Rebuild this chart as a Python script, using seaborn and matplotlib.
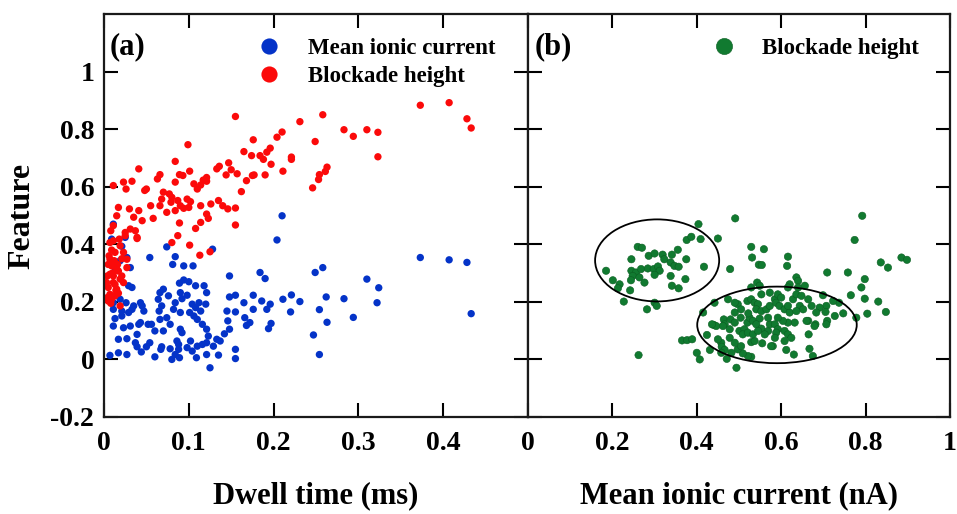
import numpy as np
import pandas as pd
import matplotlib
matplotlib.use("Agg")
import matplotlib.pyplot as plt
import seaborn as sns
from matplotlib.patches import Ellipse

# ---------------- data ----------------
red_x = [0.373, 0.407, 0.428, 0.433, 0.155, 0.231, 0.258, 0.283, 0.294, 0.310, 0.323, 0.323,
         0.249, 0.210, 0.204, 0.176, 0.099, 0.196, 0.192, 0.165, 0.174, 0.184, 0.188, 0.197,
         0.221, 0.221, 0.211, 0.263, 0.261, 0.254, 0.253, 0.246, 0.147, 0.136, 0.133, 0.150,
         0.157, 0.144, 0.175, 0.168, 0.177, 0.190, 0.162, 0.041, 0.084, 0.011, 0.023, 0.033,
         0.026, 0.066, 0.063, 0.089, 0.093, 0.101, 0.084, 0.106, 0.121, 0.117, 0.110, 0.114,
         0.121, 0.050, 0.048, 0.070, 0.077, 0.055, 0.066, 0.079, 0.087, 0.098, 0.102, 0.090,
         0.094, 0.100, 0.114, 0.126, 0.135, 0.140, 0.146, 0.155, 0.121, 0.123, 0.114, 0.108,
         0.089, 0.155, 0.058, 0.045, 0.035, 0.030, 0.041, 0.015, 0.017, 0.031, 0.025, 0.039,
         0.018, 0.008, 0.011, 0.087, 0.080, 0.101, 0.113, 0.125, 0.068, 0.080, 0.074, 0.084,
         0.007, 0.011, 0.019, 0.013, 0.007, 0.023, 0.027, 0.009, 0.015, 0.007, 0.019, 0.011,
         0.005, 0.015, 0.023, 0.007, 0.013, 0.005, 0.009, 0.019, 0.027, 0.012, 0.017, 0.011,
         0.003, 0.021, 0.025, 0.037, 0.039, 0.005, 0.013, 0.009, 0.017, 0.004, 0.021,
         0.006, 0.010, 0.014, 0.008, 0.016, 0.004]
red_y = [0.883, 0.892, 0.836, 0.804, 0.844, 0.826, 0.850, 0.798, 0.775, 0.798, 0.789, 0.704,
         0.757, 0.790, 0.772, 0.763, 0.746, 0.734, 0.720, 0.722, 0.708, 0.708, 0.695, 0.678,
         0.703, 0.695, 0.654, 0.668, 0.653, 0.642, 0.625, 0.596, 0.683, 0.671, 0.662, 0.659,
         0.645, 0.641, 0.639, 0.621, 0.641, 0.641, 0.583, 0.662, 0.688, 0.604, 0.616, 0.619,
         0.592, 0.642, 0.627, 0.642, 0.639, 0.654, 0.616, 0.610, 0.632, 0.623, 0.592, 0.606,
         0.619, 0.592, 0.587, 0.581, 0.575, 0.534, 0.534, 0.546, 0.552, 0.557, 0.548, 0.534,
         0.525, 0.528, 0.534, 0.540, 0.552, 0.534, 0.523, 0.526, 0.505, 0.490, 0.476, 0.455,
         0.474, 0.467, 0.490, 0.482, 0.494, 0.523, 0.517, 0.499, 0.528, 0.453, 0.441, 0.424,
         0.418, 0.447, 0.465, 0.430, 0.406, 0.397, 0.362, 0.374, 0.557, 0.563, 0.511, 0.517,
         0.406, 0.412, 0.395, 0.372, 0.348, 0.372, 0.348, 0.325, 0.314, 0.296, 0.279, 0.267,
         0.250, 0.244, 0.267, 0.226, 0.221, 0.203, 0.209, 0.186, 0.319, 0.343, 0.307, 0.290,
         0.267, 0.290, 0.430, 0.447, 0.420, 0.330, 0.260, 0.380, 0.230, 0.290, 0.350,
         0.360, 0.300, 0.240, 0.195, 0.330, 0.215]

blue_x = [0.011, 0.009, 0.025, 0.021, 0.027, 0.031, 0.019, 0.013, 0.074, 0.128, 0.054, 0.084,
          0.081, 0.094, 0.105, 0.210, 0.204, 0.373, 0.407, 0.428, 0.433, 0.249, 0.258, 0.184,
          0.190, 0.148, 0.310, 0.324, 0.322, 0.283, 0.294, 0.262, 0.263, 0.254, 0.247, 0.254,
          0.231, 0.221, 0.211, 0.220, 0.196, 0.192, 0.197, 0.194, 0.186, 0.176, 0.176, 0.165,
          0.166, 0.172, 0.168, 0.155, 0.148, 0.145, 0.155, 0.146, 0.148, 0.142, 0.137, 0.135,
          0.155, 0.155, 0.125, 0.121, 0.129, 0.123, 0.121, 0.116, 0.110, 0.114, 0.108, 0.104,
          0.112, 0.120, 0.121, 0.118, 0.108, 0.100, 0.094, 0.089, 0.090, 0.098, 0.092, 0.101,
          0.106, 0.090, 0.090, 0.092, 0.086, 0.088, 0.088, 0.089, 0.080, 0.078, 0.067, 0.060,
          0.054, 0.050, 0.044, 0.037, 0.027, 0.017, 0.027, 0.017, 0.007, 0.039, 0.041, 0.031,
          0.023, 0.011, 0.013, 0.021, 0.029, 0.033, 0.026, 0.019, 0.011, 0.011, 0.043, 0.045,
          0.043, 0.052, 0.056, 0.060, 0.070, 0.078, 0.074, 0.066, 0.065, 0.068, 0.064, 0.066,
          0.070, 0.076, 0.084, 0.082, 0.033, 0.029, 0.021, 0.068, 0.084, 0.098, 0.102, 0.104,
          0.110, 0.109, 0.116, 0.121, 0.133, 0.039, 0.035, 0.047]
blue_y = [0.470, 0.418, 0.424, 0.393, 0.354, 0.319, 0.343, 0.319, 0.391, 0.383, 0.354, 0.357,
          0.330, 0.325, 0.325, 0.499, 0.415, 0.354, 0.346, 0.337, 0.159, 0.302, 0.319, 0.302,
          0.281, 0.290, 0.279, 0.249, 0.197, 0.211, 0.146, 0.217, 0.129, 0.173, 0.085, 0.017,
          0.201, 0.224, 0.209, 0.165, 0.192, 0.174, 0.125, 0.107, 0.203, 0.223, 0.174, 0.197,
          0.145, 0.128, 0.118, 0.223, 0.217, 0.168, 0.165, 0.134, 0.105, 0.089, 0.064, 0.015,
          0.003, 0.035, -0.029, 0.017, 0.046, 0.081, 0.105, 0.122, 0.139, 0.168, 0.180, 0.192,
          0.197, 0.192, 0.232, 0.256, 0.256, 0.270, 0.276, 0.265, 0.232, 0.223, 0.211, 0.163,
          0.151, 0.163, 0.105, 0.093, 0.064, 0.052, 0.035, 0.006, 0.000, 0.037, 0.035, 0.009,
          0.058, 0.044, 0.026, 0.058, 0.072, 0.070, 0.017, 0.023, 0.014, 0.087, 0.122, 0.116,
          0.110, 0.116, 0.142, 0.151, 0.163, 0.174, 0.197, 0.209, 0.197, 0.174, 0.197, 0.186,
          0.128, 0.122, 0.122, 0.099, 0.099, 0.122, 0.145, 0.139, 0.168, 0.186, 0.209, 0.232,
          0.244, 0.221, 0.197, 0.174, 0.250, 0.256, 0.168, 0.044, 0.017, 0.041, 0.064, 0.029,
          0.046, 0.006, 0.052, 0.058, 0.070, 0.044, 0.186, 0.168]

green_x = [0.491, 0.792, 0.404, 0.774, 0.376, 0.387, 0.409, 0.450, 0.260, 0.270, 0.245, 0.286,
           0.300, 0.319, 0.323, 0.341, 0.355, 0.375, 0.338, 0.347, 0.357, 0.417, 0.479, 0.185,
           0.245, 0.256, 0.268, 0.284, 0.298, 0.308, 0.312, 0.300, 0.248, 0.264, 0.276, 0.244,
           0.338, 0.201, 0.217, 0.213, 0.341, 0.357, 0.373, 0.242, 0.227, 0.282, 0.300, 0.305,
           0.262, 0.529, 0.559, 0.531, 0.547, 0.554, 0.616, 0.614, 0.709, 0.758, 0.836, 0.853,
           0.885, 0.898, 0.798, 0.790, 0.765, 0.798, 0.830, 0.804, 0.848, 0.778, 0.747, 0.727,
           0.737, 0.723, 0.699, 0.707, 0.691, 0.683, 0.705, 0.709, 0.707, 0.681, 0.664, 0.665,
           0.675, 0.667, 0.630, 0.612, 0.580, 0.576, 0.555, 0.529, 0.521, 0.509, 0.497, 0.482,
           0.471, 0.494, 0.458, 0.459, 0.466, 0.478, 0.490, 0.505, 0.529, 0.537, 0.431, 0.407,
           0.400, 0.424, 0.365, 0.377, 0.389, 0.440, 0.446, 0.415, 0.442, 0.464, 0.466, 0.478,
           0.480, 0.490, 0.490, 0.497, 0.505, 0.504, 0.501, 0.513, 0.509, 0.521, 0.533, 0.520,
           0.525, 0.533, 0.522, 0.520, 0.529, 0.537, 0.545, 0.541, 0.553, 0.549, 0.541, 0.553,
           0.569, 0.573, 0.569, 0.565, 0.573, 0.585, 0.592, 0.588, 0.600, 0.596, 0.608, 0.620,
           0.616, 0.628, 0.636, 0.648, 0.644, 0.652, 0.636, 0.632, 0.616, 0.604, 0.592, 0.585,
           0.592, 0.588, 0.608, 0.616, 0.624, 0.608, 0.585, 0.561, 0.545, 0.620, 0.616, 0.636,
           0.640, 0.656, 0.640, 0.529, 0.543, 0.549, 0.573, 0.553, 0.664, 0.672, 0.660, 0.679,
           0.490, 0.474, 0.462, 0.450, 0.458, 0.436]
green_y = [0.490, 0.499, 0.470, 0.415, 0.415, 0.426, 0.418, 0.420, 0.391, 0.388, 0.348, 0.360,
           0.368, 0.364, 0.348, 0.364, 0.381, 0.348, 0.337, 0.325, 0.322, 0.322, 0.314, 0.308,
           0.308, 0.302, 0.314, 0.316, 0.314, 0.323, 0.308, 0.294, 0.290, 0.285, 0.267, 0.275,
           0.290, 0.275, 0.261, 0.247, 0.256, 0.247, 0.279, 0.240, 0.201, 0.174, 0.197, 0.186,
           0.015, 0.391, 0.383, 0.354, 0.329, 0.328, 0.357, 0.325, 0.302, 0.302, 0.337, 0.319,
           0.354, 0.346, 0.279, 0.250, 0.223, 0.211, 0.201, 0.159, 0.165, 0.145, 0.160, 0.151,
           0.197, 0.203, 0.223, 0.186, 0.180, 0.163, 0.165, 0.134, 0.122, 0.122, 0.134, 0.087,
           0.012, 0.037, 0.017, 0.033, 0.046, 0.046, 0.056, 0.009, 0.012, 0.021, 0.035, 0.023,
           0.002, -0.029, 0.058, 0.044, 0.033, 0.075, 0.058, 0.046, 0.060, 0.064, 0.033, 0.000,
           0.023, 0.085, 0.066, 0.067, 0.070, 0.120, 0.116, 0.163, 0.197, 0.139, 0.122, 0.105,
           0.139, 0.128, 0.163, 0.192, 0.174, 0.145, 0.099, 0.105, 0.087, 0.093, 0.087, 0.128,
           0.145, 0.134, 0.160, 0.203, 0.209, 0.197, 0.192, 0.174, 0.168, 0.142, 0.122, 0.107,
           0.099, 0.122, 0.145, 0.174, 0.186, 0.209, 0.226, 0.197, 0.215, 0.186, 0.174, 0.163,
           0.186, 0.209, 0.226, 0.221, 0.186, 0.174, 0.168, 0.128, 0.128, 0.134, 0.145, 0.122,
           0.105, 0.093, 0.099, 0.087, 0.075, 0.064, 0.075, 0.087, 0.099, 0.261, 0.250, 0.285,
           0.273, 0.256, 0.250, 0.250, 0.267, 0.256, 0.232, 0.226, 0.209, 0.186, 0.134, 0.116,
           0.197, 0.209, 0.116, 0.070, 0.023, 0.122]

# ellipse annotations (center x, center y, width, height) in data units
ellipse_centers_x = [0.306, 0.590]
ellipse_centers_y = [0.344, 0.120]
ellipse_widths = [0.294, 0.378]
ellipse_heights = [0.285, 0.266]

left_xticks = [0, 0.1, 0.2, 0.3, 0.4]
right_xticks = [0, 0.2, 0.4, 0.6, 0.8, 1]
yticks = [-0.2, 0, 0.2, 0.4, 0.6, 0.8, 1]

label_blue = "Mean ionic current"
label_red = "Blockade height"

# ---------------- style ----------------
sns.set_style("ticks")
plt.rcParams['font.family'] = ['Liberation Serif', 'DejaVu Serif']
plt.rcParams['font.weight'] = 'bold'
plt.rcParams['axes.labelweight'] = 'bold'
plt.rcParams['axes.linewidth'] = 1.6
plt.rcParams['text.color'] = 'black'
plt.rcParams['axes.labelcolor'] = 'black'
plt.rcParams['xtick.color'] = 'black'
plt.rcParams['ytick.color'] = 'black'

BLUE = '#0433c8'
RED = '#fb0a0a'
GREEN = '#117a30'

fig = plt.figure(figsize=(9.57, 5.14), dpi=100)
fig.patch.set_facecolor('white')
ax1 = fig.add_axes([104 / 957, 1 - 417 / 514, 424 / 957, 403 / 514])
ax2 = fig.add_axes([528 / 957, 1 - 417 / 514, 422 / 957, 403 / 514], sharey=ax1)

df_a = pd.DataFrame({
    'x': blue_x + red_x,
    'y': blue_y + red_y,
    'series': [label_blue] * len(blue_x) + [label_red] * len(red_x),
})
sns.scatterplot(data=df_a, x='x', y='y', hue='series',
                palette={label_blue: BLUE, label_red: RED},
                s=28, linewidth=0, ax=ax1, legend=True)

df_b = pd.DataFrame({'x': green_x, 'y': green_y, 'series': [label_red] * len(green_x)})
sns.scatterplot(data=df_b, x='x', y='y', hue='series', palette={label_red: GREEN},
                s=28, linewidth=0.4, edgecolor='#0b5e22', ax=ax2, legend=True)

for cx, cy, w, h in zip(ellipse_centers_x, ellipse_centers_y, ellipse_widths, ellipse_heights):
    ax2.add_patch(Ellipse((cx, cy), w, h, fill=False, edgecolor='black', lw=1.3))

ax1.set_xlim(0, 0.5)
ax2.set_xlim(0, 1)
ax1.set_ylim(-0.2, 1.2)
ax1.set_xticks(left_xticks)
ax1.set_xticklabels([f"{v:g}" for v in left_xticks])
ax2.set_xticks(right_xticks)
ax2.set_xticklabels([f"{v:g}" for v in right_xticks])
ax1.set_yticks(yticks)
ax1.set_yticklabels([f"{v:g}" for v in yticks])

for ax in (ax1, ax2):
    ax.tick_params(direction='in', length=10, width=1.5, top=True, right=True,
                   labelsize=20, colors='black')
    ax.tick_params(axis='x', pad=10)
    ax.tick_params(axis='y', pad=7)
    for sp in ax.spines.values():
        sp.set_linewidth(1.6)
        sp.set_color('#1a1a1a')
        sp.set_visible(True)
    for lab in ax.get_xticklabels() + ax.get_yticklabels():
        lab.set_fontweight('bold')
ax2.tick_params(axis='y', labelleft=False)

ax1.set_xlabel("Dwell time (ms)", fontsize=22, fontweight='bold', labelpad=18, color='black')
ax2.set_xlabel("Mean ionic current (nA)", fontsize=22, fontweight='bold', labelpad=18, color='black')
ax1.set_ylabel("Feature", fontsize=23, fontweight='bold', labelpad=10, color='black')
ax2.set_ylabel("")

ax1.text(0.014, 0.955, "(a)", transform=ax1.transAxes, fontsize=22,
         fontweight='bold', va='top', ha='left', color='black')
ax2.text(0.016, 0.955, "(b)", transform=ax2.transAxes, fontsize=22,
         fontweight='bold', va='top', ha='left', color='black')

leg_font = {'family': 'Liberation Serif', 'weight': 'bold', 'size': 16.5}
h1, l1 = ax1.get_legend_handles_labels()
lg1 = ax1.legend(h1, l1, loc='upper right', bbox_to_anchor=(0.955, 0.975), frameon=False,
                 prop=leg_font, markerscale=2.2, handletextpad=0.7, labelspacing=0.3,
                 borderaxespad=0.2)
h2, l2 = ax2.get_legend_handles_labels()
lg2 = ax2.legend(h2, l2, loc='upper right', bbox_to_anchor=(0.96, 0.975), frameon=False,
                 prop=leg_font, markerscale=2.2, handletextpad=0.7, borderaxespad=0.2)
for lg in (lg1, lg2):
    for t in lg.get_texts():
        t.set_color('black')

fig.savefig("out.png", dpi=100, facecolor='white')
